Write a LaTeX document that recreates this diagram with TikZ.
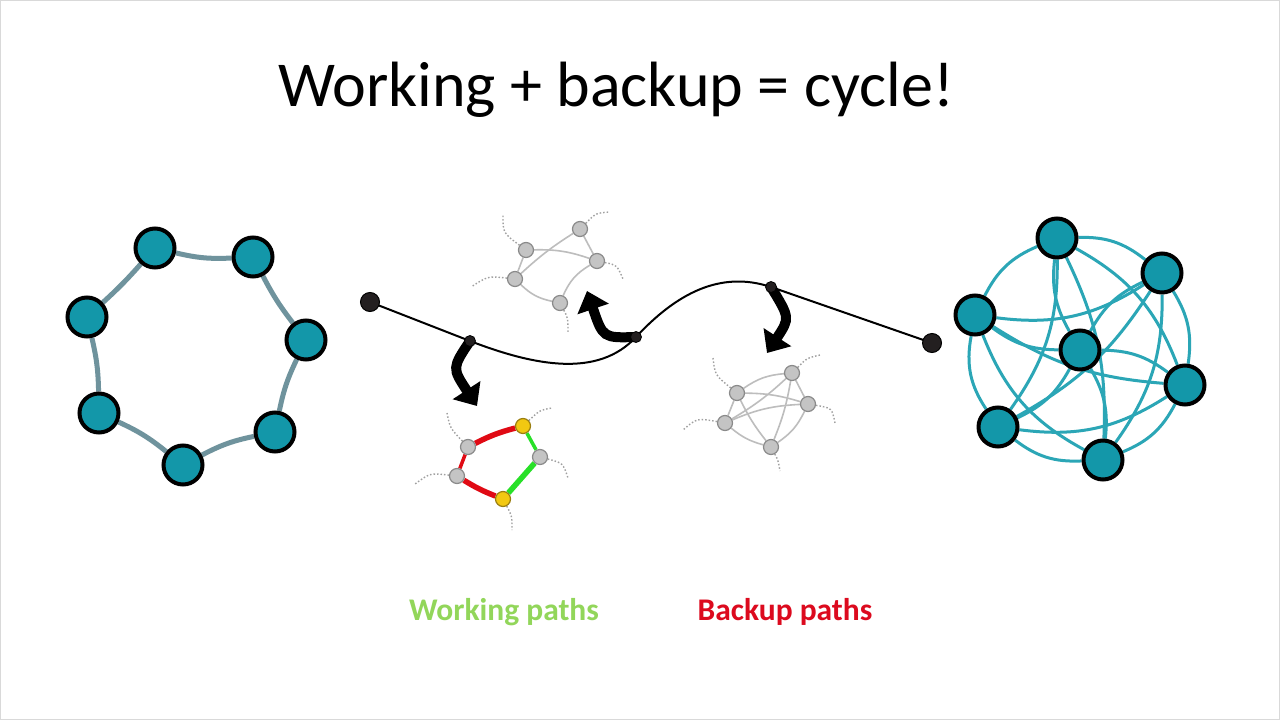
\documentclass[tikz,border=0pt]{standalone}
\usepackage{fontspec}
\setmainfont{Carlito}
\usetikzlibrary{arrows.meta,backgrounds}
\definecolor{tealnode}{HTML}{1397A9}
\definecolor{tealedge}{HTML}{2BA6B6}
\definecolor{ringedge}{HTML}{6F939D}
\definecolor{dotgray}{HTML}{A0A0A0}
\definecolor{lgray}{HTML}{C4C4C4}
\definecolor{lgrayb}{HTML}{8A8A8A}
\definecolor{lgedge}{HTML}{BDBDBD}
\definecolor{ynode}{HTML}{F2C811}
\definecolor{ynodeb}{HTML}{9A7E10}
\definecolor{wred}{HTML}{E00A14}
\definecolor{wgreen}{HTML}{28E028}
\definecolor{labgreen}{HTML}{92D65A}
\definecolor{labred}{HTML}{DC0A1E}
\definecolor{pathblack}{HTML}{231F20}
\tikzset{
  bignode/.style={circle,fill=tealnode,draw=black,line width=4pt,minimum size=39pt,inner sep=0pt},
  endnode/.style={circle,fill=pathblack,draw=black,line width=1pt,minimum size=19pt,inner sep=0pt},
  midnode/.style={circle,fill=pathblack,draw=black,line width=0.8pt,minimum size=11pt,inner sep=0pt},
  smallnode/.style={circle,fill=lgray,draw=lgrayb,line width=1.2pt,minimum size=15pt,inner sep=0pt},
  ysmall/.style={circle,fill=ynode,draw=ynodeb,line width=1.2pt,minimum size=15pt,inner sep=0pt},
  ringline/.style={draw=ringedge,line width=5pt},
  kline/.style={draw=tealedge,line width=3pt},
  grayline/.style={draw=lgedge,line width=1.6pt},
  stub/.style={draw=dotgray,line width=1.4pt,dash pattern=on 1.5pt off 2pt},
  redthick/.style={draw=wred,line width=5.5pt},
  redthin/.style={draw=wred,line width=3.5pt},
  greenthick/.style={draw=wgreen,line width=5.5pt},
  greenthin/.style={draw=wgreen,line width=3.5pt},
  mainpath/.style={draw=black,line width=2pt},
  bigarrow/.style={draw=black,line width=10pt,-{Triangle[length=19pt,width=32pt]}},
  labtext/.style={anchor=base,inner sep=0pt,font=\fontsize{31.5}{31.5}\selectfont\bfseries},
}
\begin{document}
\begin{tikzpicture}[x=1pt,y=-1pt]
\useasboundingbox (0,0) rectangle (1280,720);
\begin{pgfonlayer}{background}
\draw[draw=black!15,fill=white,line width=1pt] (0.5,0.5) rectangle (1279.5,719.5);
\end{pgfonlayer}

% title
\node[anchor=base,inner sep=0pt,font=\fontsize{64}{64}\selectfont] (title) at (616,106) {Working + backup = cycle!};

% labels
\node[labtext,text=labgreen] (wlab) at (504,620) {Working paths};
\node[labtext,text=labred] (blab) at (785,620) {Backup paths};

% left ring
\node[bignode] (r1) at (155,248) {};
\node[bignode] (r2) at (253,257) {};
\node[bignode] (r3) at (306,340) {};
\node[bignode] (r4) at (275,432) {};
\node[bignode] (r5) at (183,465) {};
\node[bignode] (r6) at (99,413) {};
\node[bignode] (r7) at (87,317) {};
\begin{pgfonlayer}{background}
\draw[ringline] (r1) to[bend right=8] (r2);
\draw[ringline] (r2) to[bend right=5] (r3);
\draw[ringline] (r3) to[bend right=7] (r4);
\draw[ringline] (r4) to[bend right=8] (r5);
\draw[ringline] (r5) to[bend right=7] (r6);
\draw[ringline] (r6) to[bend right=6] (r7);
\draw[ringline] (r7) to[bend right=3] (r1);
\end{pgfonlayer}

% right complete graph
\node[bignode] (ka) at (1057,238) {};
\node[bignode] (kb) at (1162,273) {};
\node[bignode] (ke) at (1185,385) {};
\node[bignode] (kg) at (1103,460) {};
\node[bignode] (kf) at (998,427) {};
\node[bignode] (kc) at (975,315) {};
\node[bignode] (kd) at (1080,350) {};
\begin{pgfonlayer}{background}
\foreach \s/\t/\b in {ka/kb/20,kb/ke/20,ke/kg/20,kg/kf/20,kf/kc/22,kc/ka/20,
  ka/ke/20,ka/kg/14,ka/kf/18,kb/kg/18,kb/kf/14,kb/kc/20,ke/kf/20,ke/kc/14,kg/kc/20,
  kd/ka/18,kd/kb/18,kd/ke/18,kd/kg/18,kd/kf/18,kd/kc/18}
  \draw[kline] (\s) to[bend left=\b] (\t);
\end{pgfonlayer}

% main path
\node[endnode] (pe1) at (370,302) {};
\node[endnode] (pe2) at (932,343) {};
\node[midnode] (p1) at (470,341) {};
\node[midnode] (p2) at (636,337) {};
\node[midnode] (p3) at (771,287) {};
\begin{pgfonlayer}{background}
\draw[mainpath] (pe1.center) -- (p1.center) .. controls (535,366) and (598,378) .. (p2.center)
  .. controls (676,294) and (720,270) .. (p3.center) -- (pe2.center);
\end{pgfonlayer}

% arrows
\coordinate (ta1) at (477,406);
\coordinate (ta2) at (587,291);
\coordinate (ta3) at (767,353);
\begin{pgfonlayer}{background}
\draw[bigarrow] (p1.center) .. controls (452,368) .. (ta1);
\draw[bigarrow] (p2.center) .. controls (603,338) .. (ta2);
\draw[bigarrow] (p3.center) .. controls (790,318) .. (ta3);
\end{pgfonlayer}

% upper small graph
\node[smallnode] (n1) at (580,229) {};
\node[smallnode] (n2) at (526,250) {};
\node[smallnode] (n3) at (597,261) {};
\node[smallnode] (n4) at (515,279) {};
\node[smallnode] (n5) at (560,303) {};
\coordinate (s1) at (610,212);
\coordinate (s2) at (503,215);
\coordinate (s3) at (623,279);
\coordinate (s4) at (471,287);
\coordinate (s5) at (568,333);
\begin{pgfonlayer}{background}
\draw[grayline] (n2) to[bend left=10] (n3);
\draw[grayline] (n1) -- (n3);
\draw[grayline] (n4) to[bend left=5] (n1);
\draw[grayline] (n2) -- (n4);
\draw[grayline] (n4) to[bend right=16] (n5);
\draw[grayline] (n5) to[bend left=18] (n3);
\draw[stub] (n2) .. controls (503,233) .. (s2);
\draw[stub] (n1) .. controls (596,213) .. (s1);
\draw[stub] (n3) .. controls (617,265) .. (s3);
\draw[stub] (n4) .. controls (488,276) .. (s4);
\draw[stub] (n5) .. controls (568,318) .. (s5);
\end{pgfonlayer}

% lower-left graph (working + backup)
\node[ysmall] (y1) at (523,426) {};
\node[smallnode] (g1) at (468,447) {};
\node[smallnode] (g2) at (540,457) {};
\node[smallnode] (g3) at (457,476) {};
\node[ysmall] (y2) at (503,499) {};
\coordinate (t1) at (447,413);
\coordinate (t2) at (552,408);
\coordinate (t3) at (568,478);
\coordinate (t4) at (415,484);
\coordinate (t5) at (512,530);
\begin{pgfonlayer}{background}
\draw[redthick] (g1) to[bend left=6] (y1);
\draw[redthin] (g1) -- (g3);
\draw[redthick] (g3) to[bend right=5] (y2);
\draw[greenthin] (y1) -- (g2);
\draw[greenthick] (g2) -- (y2);
\draw[stub] (g1) .. controls (450,428) .. (t1);
\draw[stub] (y1) .. controls (540,410) .. (t2);
\draw[stub] (g2) .. controls (563,463) .. (t3);
\draw[stub] (g3) .. controls (430,473) .. (t4);
\draw[stub] (y2) .. controls (512,516) .. (t5);
\end{pgfonlayer}

% lower-right K5
\node[smallnode] (m1) at (792,373) {};
\node[smallnode] (m2) at (737,393) {};
\node[smallnode] (m3) at (808,404) {};
\node[smallnode] (m4) at (725,423) {};
\node[smallnode] (m5) at (771,447) {};
\coordinate (u1) at (820,355);
\coordinate (u2) at (713,358);
\coordinate (u3) at (835,423);
\coordinate (u4) at (683,430);
\coordinate (u5) at (780,471);
\begin{pgfonlayer}{background}
\draw[grayline] (m2) to[bend left=15] (m1);
\draw[grayline] (m2) to[bend left=8] (m3);
\draw[grayline] (m2) to[bend right=6] (m5);
\draw[grayline] (m2) -- (m4);
\draw[grayline] (m4) to[bend right=6] (m1);
\draw[grayline] (m4) to[bend left=10] (m3);
\draw[grayline] (m4) to[bend right=12] (m5);
\draw[grayline] (m1) -- (m3);
\draw[grayline] (m1) to[bend left=6] (m5);
\draw[grayline] (m5) to[bend right=15] (m3);
\draw[stub] (m2) .. controls (715,375) .. (u2);
\draw[stub] (m1) .. controls (807,358) .. (u1);
\draw[stub] (m3) .. controls (832,408) .. (u3);
\draw[stub] (m4) .. controls (697,418) .. (u4);
\draw[stub] (m5) .. controls (778,460) .. (u5);
\end{pgfonlayer}
\end{tikzpicture}
\end{document}
